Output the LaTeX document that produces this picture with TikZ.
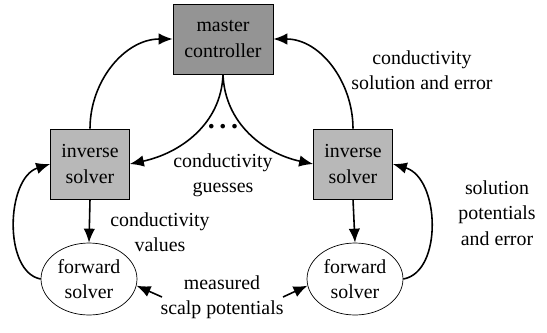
\documentclass[tikz,border=0pt]{standalone}
\usepackage{fontspec}
\setmainfont{Liberation Serif}
\usetikzlibrary{positioning,arrows.meta,shapes.geometric}

\begin{document}
\begin{tikzpicture}[x=0.02cm, y=-0.02cm, >={Latex[length=2.8mm,width=2.3mm]},
  every node/.style={align=center, font=\fontsize{11.3}{14.5}\selectfont},
  master/.style={draw, fill=black!42, minimum width=2cm, minimum height=1.4cm},
  inverse/.style={draw, fill=black!28, minimum width=1.58cm, minimum height=1.4cm},
  forward/.style={draw, ellipse, minimum width=1.92cm, minimum height=1.44cm, inner sep=0pt},
  link/.style={->, line width=0.9pt}]
\useasboundingbox (0,0) rectangle (547,332);

% solver nodes
\node[master] (mc) at (223,39) {master\\controller};
\node[inverse] (il) at (90,164) {inverse\\solver};
\node[inverse] (ir) at (353,164) {inverse\\solver};
\node[forward] (fl) at (89,279) {forward\\solver};
\node[forward] (fr) at (355,279) {forward\\solver};

% labels
\node (lsol) at (422,70) {conductivity\\solution and error};
\node (lgue) at (223,175) {conductivity\\guesses};
\node (ldots) at (223,127) {\fontsize{16}{16}\selectfont\bfseries .\,.\,.};
\node (lval) at (160,232) {conductivity\\values};
\node (lpot) at (497,213) {solution\\potentials\\and error};
\node (lmeas) at (222,297) {measured\\scalp potentials};
\coordinate (ml) at (162,297);
\coordinate (mr) at (283,297);

% inverse solvers report to the controller
\draw[link] (il.north) to[out=90, in=180] (mc.west);
\draw[link] (ir.north) to[out=90, in=0] (mc.east);

% controller hands out guesses
\draw[link] (mc.south) to[out=-92, in=12] (il.east);
\draw[link] (mc.south) to[out=-88, in=168] (ir.west);

% inverse -> forward
\draw[link] (il.south) -- (fl.north);
\draw[link] (ir.south) -- (fr.north);

% forward -> inverse (back loops)
\draw[link] (fl.west) .. controls (3,272) and (6,178) .. (il.west);
\draw[link] (fr.east) .. controls (443,272) and (440,178) .. (ir.east);

% measured potentials
\draw[link] (ml) -- (fl.-8);
\draw[link] (mr) -- (fr.188);
\end{tikzpicture}
\end{document}
